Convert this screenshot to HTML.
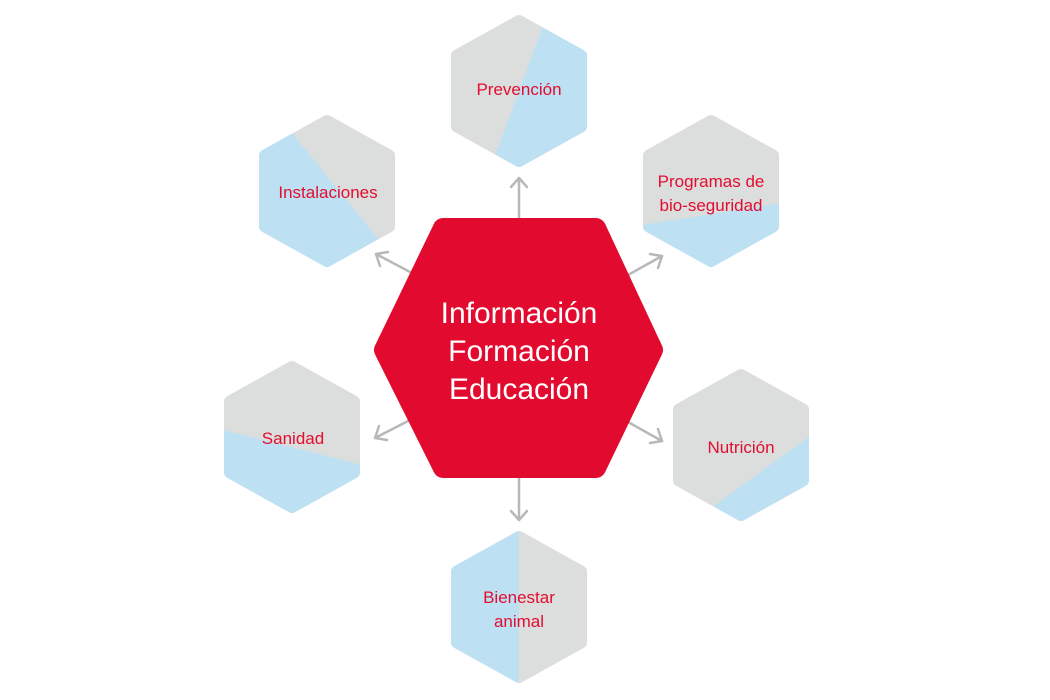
<!DOCTYPE html>
<html><head><meta charset="utf-8"><style>
html,body{margin:0;padding:0;background:#fff;}
svg{display:block;}
text{font-family:"Liberation Sans",sans-serif;}
</style></head><body>
<svg width="1050" height="700" viewBox="0 0 1050 700" xmlns="http://www.w3.org/2000/svg">
<defs>
<linearGradient id="g1" gradientUnits="userSpaceOnUse" x1="425" y1="56" x2="613" y2="126"><stop offset="0.5" stop-color="#dcdddd"/><stop offset="0.5" stop-color="#bde0f2"/></linearGradient>
<linearGradient id="g2" gradientUnits="userSpaceOnUse" x1="260" y1="252" x2="415" y2="126"><stop offset="0.5" stop-color="#bde0f2"/><stop offset="0.5" stop-color="#dcdddd"/></linearGradient>
<linearGradient id="g3" gradientUnits="userSpaceOnUse" x1="696" y1="115" x2="727" y2="313"><stop offset="0.5" stop-color="#dcdddd"/><stop offset="0.5" stop-color="#bde0f2"/></linearGradient>
<linearGradient id="g4" gradientUnits="userSpaceOnUse" x1="317" y1="350" x2="268" y2="545"><stop offset="0.5" stop-color="#dcdddd"/><stop offset="0.5" stop-color="#bde0f2"/></linearGradient>
<linearGradient id="g5" gradientUnits="userSpaceOnUse" x1="692" y1="398" x2="810" y2="560"><stop offset="0.5" stop-color="#dcdddd"/><stop offset="0.5" stop-color="#bde0f2"/></linearGradient>
<linearGradient id="g6" gradientUnits="userSpaceOnUse" x1="419" y1="0" x2="619" y2="0"><stop offset="0.5" stop-color="#bde0f2"/><stop offset="0.5" stop-color="#dcdddd"/></linearGradient>
</defs>
<g stroke-width="12" stroke-linejoin="round">
<polygon fill="url(#g1)" stroke="url(#g1)" points="519,21 581,55.5 581,126.5 519,161 457,126.5 457,55.5"/>
<polygon fill="url(#g2)" stroke="url(#g2)" points="327,121 389,155.5 389,226.5 327,261 265,226.5 265,155.5"/>
<polygon fill="url(#g3)" stroke="url(#g3)" points="711,121 773,155.5 773,226.5 711,261 649,226.5 649,155.5"/>
<polygon fill="url(#g4)" stroke="url(#g4)" points="292,367 354,401.5 354,472.5 292,507 230,472.5 230,401.5"/>
<polygon fill="url(#g5)" stroke="url(#g5)" points="741,375 803,409.5 803,480.5 741,515 679,480.5 679,409.5"/>
<polygon fill="url(#g6)" stroke="url(#g6)" points="519,537 581,571.5 581,642.5 519,677 457,642.5 457,571.5"/>
</g>
<g stroke="#b8b8b8" stroke-width="2.5" fill="none" stroke-linecap="round" stroke-linejoin="round">
<line x1="519" y1="218" x2="519" y2="178"/><polyline points="511,187 519,178 527,187"/>
<line x1="519" y1="478" x2="519" y2="520"/><polyline points="511,511 519,520 527,511"/>
<line x1="410" y1="272" x2="376" y2="254"/><polyline points="380,266 376,254 388,252"/>
<line x1="628" y1="275" x2="662" y2="256"/><polyline points="650,254 662,256 658,268"/>
<line x1="410" y1="420" x2="375" y2="438"/><polyline points="379,426 375,438 387,440"/>
<line x1="628" y1="422" x2="662" y2="441"/><polyline points="658,429 662,441 650,443"/>
</g>
<polygon fill="#e20a2e" stroke="#e20a2e" stroke-width="20" stroke-linejoin="round" points="384,350 443,228 596,228 653,350 596,468 443,468"/>
<g fill="#fff" font-size="30" text-anchor="middle">
<text x="519" y="323">Información</text>
<text x="519" y="361">Formación</text>
<text x="519" y="399">Educación</text>
</g>
<g fill="#e30d2f" font-size="17" text-anchor="middle">
<text x="519" y="95">Prevención</text>
<text x="328" y="198">Instalaciones</text>
<text x="711" y="187">Programas de</text>
<text x="711" y="211">bio-seguridad</text>
<text x="293" y="444">Sanidad</text>
<text x="741" y="453">Nutrición</text>
<text x="519" y="603">Bienestar</text>
<text x="519" y="627">animal</text>
</g>
</svg>
</body></html>
